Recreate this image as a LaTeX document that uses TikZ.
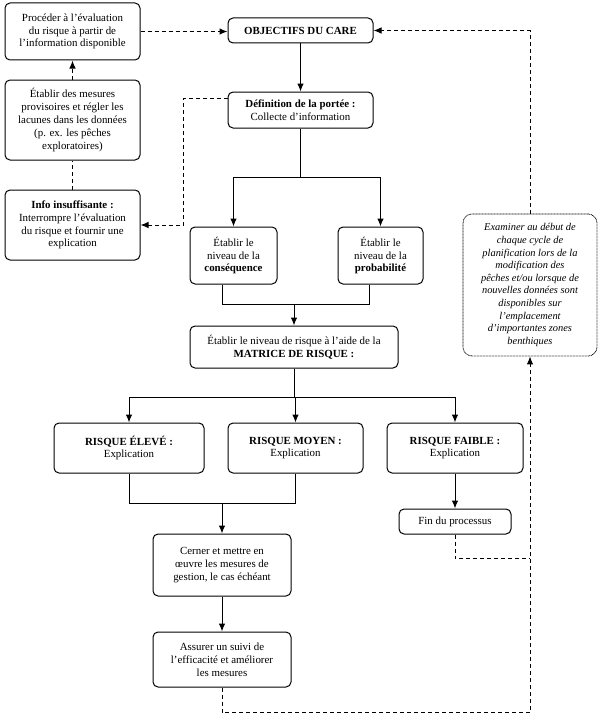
\documentclass[tikz,border=0pt]{standalone}
\usepackage{fontspec}
\setmainfont{Liberation Serif}
\usepackage{tikz}
\usetikzlibrary{arrows.meta, positioning, calc}

\begin{document}
\begin{tikzpicture}[
    x=1pt, y=-1pt,
    box/.style={
        rectangle,
        draw,
        rounded corners=5pt,
        line width=1pt,
        align=center,
        inner sep=1pt,
        font=\fontsize{10.9}{12.8}\selectfont
    },
    notebox/.style={
        box,
        rounded corners=9pt,
        line width=0.8pt,
        dash pattern=on 0.8pt off 0.7pt,
        font=\fontsize{10.4}{12.6}\selectfont\itshape
    },
    arrow/.style={
        -{Latex[length=8pt,width=6.5pt]},
        line width=1pt
    },
    dasharrow/.style={
        arrow,
        dash pattern=on 4pt off 3pt
    },
    dashline/.style={
        line width=1pt,
        dash pattern=on 4pt off 3pt
    }
]
\useasboundingbox (0,0) rectangle (600,717);

% Colonne de gauche
\node[box, minimum width=135pt, minimum height=57pt] (proceder) at (72.5,31.5)
    {Procéder à l’évaluation\\du risque à partir de\\l’information disponible};
\node[box, minimum width=135pt, minimum height=80pt] (mesures) at (72.5,120)
    {Établir des mesures\\provisoires et régler les\\lacunes dans les données\\(p. ex. les pêches\\exploratoires)};
\node[box, minimum width=135pt, minimum height=70pt] (info) at (72.5,225)
    {\textbf{Info insuffisante :}\\Interrompre l’évaluation\\du risque et fournir une\\explication};

% Flux central
\node[box, minimum width=145pt, minimum height=25pt] (objectifs) at (300.5,30.5)
    {\textbf{OBJECTIFS DU CARE}};
\node[box, minimum width=145pt, minimum height=36pt] (portee) at (300.5,110)
    {\textbf{Définition de la portée :}\\Collecte d’information};
\node[box, minimum width=87pt, minimum height=57pt] (consequence) at (233.5,255.5)
    {Établir le\\niveau de la\\\textbf{conséquence}};
\node[box, minimum width=85pt, minimum height=57pt] (probabilite) at (380.5,255.5)
    {Établir le\\niveau de la\\\textbf{probabilité}};
\node[box, minimum width=208pt, minimum height=42pt] (matrice) at (294,347)
    {Établir le niveau de risque à l’aide de la\\\textbf{MATRICE DE RISQUE :}};
\node[box, minimum width=150pt, minimum height=50pt] (eleve) at (129,448)
    {\textbf{RISQUE ÉLEVÉ :}\\Explication};
\node[box, minimum width=135pt, minimum height=50pt] (moyen) at (295.5,448)
    {\textbf{RISQUE MOYEN :}\\Explication};
\node[box, minimum width=136pt, minimum height=50pt] (faible) at (455,448)
    {\textbf{RISQUE FAIBLE :}\\Explication};
\node[box, minimum width=112pt, minimum height=25pt] (fin) at (455,521.5)
    {Fin du processus};
\node[box, minimum width=138pt, minimum height=62pt] (cerner) at (222,565)
    {Cerner et mettre en\\œuvre les mesures de\\gestion, le cas échéant};
\node[box, minimum width=138pt, minimum height=55pt] (assurer) at (222,659.5)
    {Assurer un suivi de\\l’efficacité et améliorer\\les mesures};

% Boucle de révision
\node[notebox, minimum width=134pt, minimum height=142pt] (examiner) at (530,285)
    {Examiner au début de\\chaque cycle de\\planification lors de la\\modification des\\pêches et/ou lorsque de\\nouvelles données sont\\disponibles sur\\l’emplacement\\d’importantes zones\\benthiques};

% Flux principal
\draw[arrow] (objectifs) -- (portee);
\draw[arrow] (portee.south) -- ++(0,49) -| (consequence.north);
\draw[arrow] (portee.south) -- ++(0,49) -| (probabilite.north);
\coordinate (joinA) at ([xshift=-11.5pt,yshift=-20pt]consequence.south);
\draw[line width=1pt] ([xshift=-11.5pt]consequence.south) -- (joinA)
    -| ([xshift=-11.5pt]probabilite.south);
\draw[arrow] (matrice.north |- joinA) -- (matrice.north);
\draw[arrow] (matrice.south) -- ++(0,29) -| (eleve.north);
\draw[arrow] (matrice.south) -- ++(0,29) -| (moyen.north);
\draw[arrow] (matrice.south) -- ++(0,29) -| (faible.north);
\coordinate (joinB) at ([yshift=-30pt]eleve.south);
\draw[line width=1pt] (eleve.south) -- (joinB) -| (moyen.south);
\draw[arrow] (cerner.north |- joinB) -- (cerner.north);
\draw[arrow] (cerner) -- (assurer);
\draw[arrow] (faible) -- (fin);

% Liens en tirets
\draw[dasharrow] (proceder.east) -- (proceder.east -| objectifs.west);
\draw[dasharrow] (mesures) -- (proceder);
\draw[dashline] (info) -- (mesures);
\draw[dasharrow] ([yshift=12pt]portee.west) -- ++(-44,0) |- (info.east);
\draw[dasharrow] (assurer.south) -- ++(0,25) -| (examiner.south);
\draw[dashline] (fin.south) -- ++(0,24) coordinate (finbend) -- (finbend -| examiner.south);
\draw[dasharrow] (examiner.north) |- (objectifs.east);

\end{tikzpicture}
\end{document}
